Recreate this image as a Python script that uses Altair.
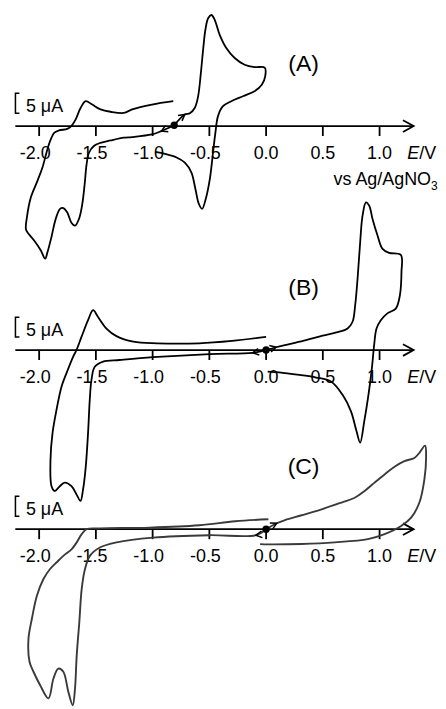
import altair as alt
import pandas as pd

# ---------------- data (E in V vs Ag/AgNO3, I in uA) ----------------
TICKS = [-2.0, -1.5, -1.0, -0.5, 0.0, 0.5, 1.0]
TICK_LABELS = ["-2.0", "-1.5", "-1.0", "-0.5", "0.0", "0.5", "1.0"]

# Panel A
A_ox = [(-0.81, 0.2), (-0.716, 2.9), (-0.672, 3.2), (-0.628, 4.6), (-0.599, 7.5), (-0.575, 13.3),
        (-0.555, 19.2), (-0.535, 24.2), (-0.511, 27.1), (-0.482, 27.9), (-0.453, 26.7), (-0.409, 22.9),
        (-0.351, 19.6), (-0.277, 17.1), (-0.189, 15.4), (-0.102, 14.8), (-0.012, 14.7), (-0.008, 12.5),
        (-0.038, 10.4), (-0.102, 8.75), (-0.204, 7.5), (-0.307, 6.25), (-0.380, 5.0), (-0.424, 2.5),
        (-0.447, -1.7), (-0.468, -6.7), (-0.496, -13.3), (-0.532, -18.3), (-0.564, -20.8), (-0.593, -19.5),
        (-0.623, -15.8), (-0.658, -11.7), (-0.716, -9.2), (-0.789, -7.9), (-0.891, -7.0), (-0.976, -6.5)]
A_red = [(-0.81, 0.2), (-0.923, -1.25), (-1.008, -2.1), (-1.183, -2.75), (-1.254, -2.9), (-1.371, -3.6),
         (-1.459, -4.2), (-1.518, -5.0), (-1.561, -6.7), (-1.582, -9.6), (-1.599, -14.6), (-1.620, -19.6),
         (-1.649, -23.3), (-1.684, -25.0), (-1.717, -24.2), (-1.752, -21.7), (-1.787, -20.6), (-1.816, -20.8),
         (-1.854, -23.3), (-1.892, -27.9), (-1.927, -31.7), (-1.947, -33.3), (-1.985, -31.25), (-2.044, -28.75),
         (-2.103, -26.7), (-2.117, -25.8), (-2.108, -22.9), (-2.073, -17.9), (-2.015, -13.75), (-1.971, -10.4),
         (-1.927, -5.8), (-1.897, -3.3), (-1.868, -1.7), (-1.825, -1.1), (-1.752, -0.7), (-1.717, 0.0),
         (-1.678, 1.7), (-1.634, 4.6), (-1.590, 6.25), (-1.532, 5.4), (-1.459, 4.2), (-1.371, 3.6),
         (-1.254, 3.3), (-1.18, 4.2), (-1.006, 5.4), (-0.818, 6.25)]

# Panel B
B_red = [(0.0, 0.0), (-0.118, -0.7), (-0.499, -1.0), (-0.997, -1.8), (-1.290, -2.5), (-1.437, -2.9),
         (-1.510, -4.2), (-1.539, -7.5), (-1.554, -12.5), (-1.569, -20.8), (-1.589, -29.2), (-1.613, -35.0),
         (-1.636, -37.9), (-1.671, -36.25), (-1.715, -34.2), (-1.774, -33.3), (-1.818, -34.2), (-1.862, -35.4),
         (-1.891, -34.2), (-1.900, -27.5), (-1.882, -20.8), (-1.847, -15.0), (-1.803, -9.2), (-1.759, -5.8),
         (-1.701, -1.7), (-1.671, 0.0), (-1.627, 3.3), (-1.569, 7.5), (-1.525, 10.0), (-1.481, 8.3),
         (-1.407, 5.4), (-1.319, 3.5), (-1.17, 2.1), (-0.96, 1.7), (-0.59, 1.7), (-0.30, 2.3), (0.0, 3.3)]
B_ox = [(0.0, 0.0), (0.088, 0.7), (0.205, 1.5), (0.352, 2.5), (0.498, 3.6), (0.645, 4.6), (0.718, 5.4),
        (0.762, 7.1), (0.785, 11.25), (0.806, 17.9), (0.827, 26.25), (0.850, 33.75), (0.880, 37.1),
        (0.909, 36.25), (0.938, 32.9), (0.982, 28.75), (1.026, 25.4), (1.084, 24.4), (1.187, 23.9),
        (1.193, 19.6), (1.179, 13.75), (1.143, 10.4), (1.069, 9.2), (1.011, 7.5), (0.973, 5.4),
        (0.952, 1.25), (0.932, -4.6), (0.902, -11.25), (0.865, -17.9), (0.829, -23.25), (0.797, -20.4),
        (0.748, -15.4), (0.674, -11.25), (0.572, -7.9), (0.440, -6.9), (0.293, -6.25), (0.117, -5.6),
        (0.014, -5.4)]

# Panel C
C_red = [(0.0, 0.0), (-0.090, -1.5), (-0.500, -1.5), (-0.997, -2.1), (-1.318, -3.3), (-1.465, -4.6),
         (-1.553, -6.7), (-1.596, -10.0), (-1.625, -15.0), (-1.646, -23.3), (-1.669, -31.7), (-1.684, -40.0),
         (-1.704, -44.2), (-1.743, -40.8), (-1.787, -35.8), (-1.831, -35.0), (-1.874, -37.5), (-1.918, -42.5),
         (-1.991, -39.2), (-2.050, -35.8), (-2.085, -33.3), (-2.094, -27.5), (-2.064, -22.5), (-2.020, -16.7),
         (-1.962, -12.5), (-1.904, -10.0), (-1.845, -8.3), (-1.787, -6.7), (-1.713, -5.0), (-1.669, -3.3),
         (-1.625, -1.25), (-1.582, 0.0), (-1.465, 0.2), (-1.026, 0.4), (-0.588, 1.0), (-0.272, 2.0),
         (0.02, 2.5)]
C_ox = [(0.0, 0.0), (0.094, 1.5), (0.167, 2.3), (0.313, 3.5), (0.489, 5.0), (0.664, 6.7), (0.781, 7.9),
        (0.868, 9.6), (0.956, 11.7), (1.044, 13.75), (1.132, 15.7), (1.219, 17.1), (1.307, 17.9),
        (1.351, 19.2), (1.401, 21.0), (1.410, 18.3), (1.395, 12.5), (1.351, 6.7), (1.278, 2.9),
        (1.190, 0.8), (1.044, -1.25), (0.897, -2.5), (0.605, -3.3), (0.313, -3.7), (0.020, -3.8),
        (-0.053, -3.75)]

# start points and scan-direction arrows (E, I, direction in degrees clockwise)
A_start = (-0.81, 0.2)
B_start = (0.0, 0.0)
C_start = (0.0, 0.0)
A_arrows = [(-0.716, 2.9, 323), (-0.923, -1.25, 156)]
B_arrows = [(0.088, 0.7, 345), (-0.118, -0.7, 170)]
C_arrows = [(0.094, 1.5, 334), (-0.09, -1.5, 172)]

SCALE_BAR_UA = 5.0

# ---------------- layout ----------------
W, H = 430, 693
PX_PER_UA = 4.0
PX_PER_V = 114.0
X_ORIGIN_PX = 259.3
X_DOM = [-X_ORIGIN_PX / PX_PER_V, (W - X_ORIGIN_PX) / PX_PER_V]
FONT = "Liberation Sans"

xs = alt.Scale(domain=X_DOM, nice=False, zero=False)
one = pd.DataFrame({"k": [0]})
CHEVRON = "M -1 -0.55 L 0 0 L -1 0.55"


def XD(v):
    return alt.XDatum(v, type="quantitative", scale=xs, axis=None)


def panel(name, traces, start, arrows, axis_px, color, lw, extra_text=False):
    ys = alt.Scale(domain=[(axis_px - H) / PX_PER_UA, axis_px / PX_PER_UA], nice=False, zero=False)

    def YD(v):
        return alt.YDatum(v, type="quantitative", scale=ys, axis=None)

    rows = []
    for t, pts in enumerate(traces):
        for k, (e, i) in enumerate(pts):
            rows.append({"trace": t, "k": k, "E": e, "I": i})
    df = pd.DataFrame(rows)
    X = alt.X("E:Q", scale=xs, axis=None)
    Y = alt.Y("I:Q", scale=ys, axis=None)

    curve = alt.Chart(df).mark_line(interpolate="catmull-rom", strokeWidth=lw, color=color).encode(
        x=X, y=Y, detail="trace:N", order="k:Q")

    axis_line = alt.Chart(one).mark_rule(strokeWidth=1.8, color="black").encode(
        x=XD(-2.21), x2=alt.datum(1.30), y=YD(0))
    axis_head = alt.Chart(one).mark_point(shape=CHEVRON, size=458, filled=False, strokeWidth=1.8,
                                          color="black", opacity=1).encode(x=XD(1.30), y=YD(0))
    tdf = pd.DataFrame({"E": TICKS, "lab": TICK_LABELS})
    ticks = alt.Chart(tdf).mark_rule(strokeWidth=1.8, color="black", y2Offset=10).encode(
        x=X, y=YD(0), y2=alt.datum(0))
    lab_neg = alt.Chart(tdf).transform_filter("datum.E < 0").mark_text(
        font=FONT, fontSize=18, baseline="alphabetic", dy=33, dx=-4, color="black").encode(
        x=X, y=YD(0), text="lab:N")
    lab_pos = alt.Chart(tdf).transform_filter("datum.E >= 0").mark_text(
        font=FONT, fontSize=18, baseline="alphabetic", dy=33, color="black").encode(
        x=X, y=YD(0), text="lab:N")
    e_lab = alt.Chart(one).mark_text(font=FONT, fontSize=18, fontStyle="italic", baseline="alphabetic",
                                     align="left", dy=33, color="black").encode(
        x=XD(1.243), y=YD(0), text=alt.value("E"))
    v_lab = alt.Chart(one).mark_text(font=FONT, fontSize=18, baseline="alphabetic",
                                     align="left", dy=33, color="black").encode(
        x=XD(1.35), y=YD(0), text=alt.value("/V"))

    bar_df = pd.DataFrame({"E": [-2.174, -2.209, -2.209, -2.174],
                           "I": [3.25 + SCALE_BAR_UA, 3.25 + SCALE_BAR_UA, 3.25, 3.25],
                           "k": [0, 1, 2, 3]})
    bar = alt.Chart(bar_df).mark_line(strokeWidth=1.5, color="black").encode(x=X, y=Y, order="k:Q")
    bar_lab = alt.Chart(one).mark_text(font=FONT, fontSize=18, baseline="alphabetic", align="left",
                                       dy=-14, color="black").encode(
        x=XD(-2.117), y=YD(0), text=alt.value("5 μA"))
    title = alt.Chart(one).mark_text(font=FONT, fontSize=23, baseline="middle", align="center",
                                     color="black").encode(
        x=XD(0.33), y=YD(15.5), text=alt.value(name))

    sdf = pd.DataFrame({"E": [start[0]], "I": [start[1]]})
    dot = alt.Chart(sdf).mark_circle(size=55, color="black", opacity=1).encode(x=X, y=Y)
    adf = pd.DataFrame({"E": [a[0] for a in arrows], "I": [a[1] for a in arrows],
                        "ang": [a[2] for a in arrows]})
    arr = alt.Chart(adf).mark_point(shape=CHEVRON, size=150, filled=False, strokeWidth=1.5,
                                    color="black", opacity=1).encode(
        x=X, y=Y, angle=alt.Angle("ang:Q", scale=None))

    layers = [axis_line, axis_head, ticks, lab_neg, lab_pos, e_lab, v_lab, bar, bar_lab, title,
              curve, dot, arr]
    if extra_text:
        vs = alt.Chart(one).mark_text(font=FONT, fontSize=18, baseline="alphabetic", align="right",
                                      dy=59, color="black").encode(
            x=XD(1.4535), y=YD(0), text=alt.value("vs Ag/AgNO"))
        sub = alt.Chart(one).mark_text(font=FONT, fontSize=12, baseline="alphabetic", align="left",
                                       dy=64, color="black").encode(
            x=XD(1.4535), y=YD(0), text=alt.value("3"))
        layers += [vs, sub]
    return alt.layer(*layers)


pA = panel("(A)", [A_ox, A_red], A_start, A_arrows, 117, "black", 1.8, extra_text=True)
pB = panel("(B)", [B_red, B_ox], B_start, B_arrows, 342, "black", 1.8)
pC = panel("(C)", [C_red, C_ox], C_start, C_arrows, 522, "#3a3a3a", 1.9)

chart = alt.layer(pA, pB, pC).resolve_scale(y="independent").properties(
    width=W, height=H, padding=0, background="white"
).configure_view(stroke=None)

chart.save("out.html", embed_options={"renderer": "svg", "actions": False})
